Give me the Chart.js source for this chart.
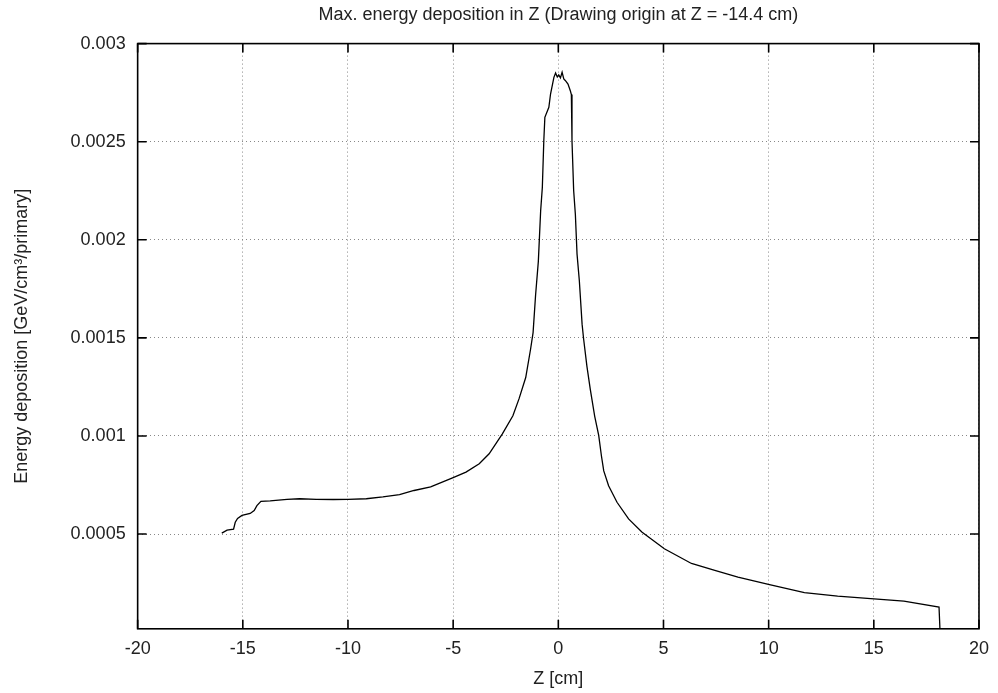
<!DOCTYPE html>
<html>
<head>
<meta charset="utf-8">
<script src="https://cdn.jsdelivr.net/npm/chart.js@4.4.1/dist/chart.umd.min.js"></script>
<style>
    html, body { margin: 0; padding: 0; background: #ffffff; }
    #wrap { width: 998px; height: 693px; }
</style>
</head>
<body>
<div id="wrap"><canvas id="depoChart" width="998" height="693"></canvas></div>
<script>
// Z position along the beam axis [cm]
const zValues = [
    -16.0, -15.75, -15.44, -15.36, -15.25, -15.04, -14.65, -14.46, -14.33, -14.14,
    -13.7, -12.9, -12.3, -11.5, -10.7, -10.0, -9.13, -8.34, -7.55, -6.86,
    -6.07, -5.0, -4.39, -3.76, -3.29, -2.66, -2.16, -1.87, -1.55, -1.32,
    -1.2, -1.08, -0.95, -0.84, -0.76, -0.69, -0.64, -0.45, -0.37, -0.21,
    -0.13, -0.05, 0.02, 0.1, 0.18, 0.26, 0.34, 0.46, 0.57, 0.62,
    0.65, 0.73, 0.81, 0.89, 1.0, 1.13, 1.2, 1.36, 1.52, 1.73,
    1.92, 2.05, 2.16, 2.39, 2.79, 3.34, 3.97, 5.04, 6.33, 7.44,
    8.54, 10.04, 11.7, 13.28, 15.01, 16.43, 18.1, 18.15
];

// max. energy deposition [GeV/cm3/primary]
const energyValues = [
    0.000505, 0.00052, 0.000525, 0.00056, 0.00058, 0.000595, 0.000605, 0.00062, 0.000645, 0.000667,
    0.000669, 0.000677, 0.00068, 0.000677, 0.000676, 0.000677, 0.00068, 0.000689, 0.000701, 0.000722,
    0.00074, 0.000788, 0.000816, 0.000858, 0.000909, 0.001011, 0.001103, 0.001189, 0.001298, 0.001442,
    0.001527, 0.00172, 0.00189, 0.002148, 0.002267, 0.002505, 0.002624, 0.002675, 0.002743, 0.002828,
    0.00285, 0.00283, 0.00284, 0.002825, 0.002854, 0.00282, 0.002811, 0.002794, 0.00276, 0.00274,
    0.002505, 0.00225, 0.00213, 0.001927, 0.00179, 0.00157, 0.001497, 0.001355, 0.001237, 0.0011,
    0.001003, 0.000898, 0.000822, 0.000746, 0.000662, 0.000577, 0.00051, 0.000425, 0.00035, 0.000315,
    0.00028, 0.000242, 0.000201, 0.000184, 0.00017, 0.000158, 0.000128, 0
];

// y tick labels shown on the axis (no label at the bottom)
const yTickLabels = ['0.0005', '0.001', '0.0015', '0.002', '0.0025', '0.003'];

const points = [];
for (let i = 0; i < zValues.length; i++) {
    points.push({ x: zValues[i], y: energyValues[i] });
}

const fontFamily = '"Liberation Sans", Arial, Helvetica, sans-serif';

// gnuplot style frame with inward tick marks
const framePlugin = {
    id: 'frame',
    afterDraw (chart) {
        const ctx = chart.ctx;
        const a = chart.chartArea;
        const xs = chart.scales.x;
        const ys = chart.scales.y;
        const len = 9;
        ctx.save();
        ctx.strokeStyle = '#000';
        ctx.lineWidth = 1.6;
        ctx.strokeRect(a.left, a.top, a.right - a.left, a.bottom - a.top);
        ctx.beginPath();
        xs.ticks.forEach(function (t) {
            const px = xs.getPixelForValue(t.value);
            ctx.moveTo(px, a.bottom); ctx.lineTo(px, a.bottom - len);
            ctx.moveTo(px, a.top); ctx.lineTo(px, a.top + len);
        });
        ys.ticks.forEach(function (t) {
            const py = ys.getPixelForValue(t.value);
            ctx.moveTo(a.left, py); ctx.lineTo(a.left + len, py);
            ctx.moveTo(a.right, py); ctx.lineTo(a.right - len, py);
        });
        ctx.stroke();
        ctx.restore();
    }
};

const config = {
    type: 'line',
    data: {
        datasets: [{
            data: points,
            borderColor: '#000',
            borderWidth: 1.3,
            pointRadius: 0,
            tension: 0,
            fill: false
        }]
    },
    options: {
        responsive: false,
        animation: false,
        layout: { padding: { left: 11, right: 5, top: 0, bottom: 3 } },
        plugins: {
            legend: { display: false },
            tooltip: { enabled: false },
            title: {
                display: true,
                fullSize: false,
                text: 'Max. energy deposition in Z (Drawing origin at Z = -14.4 cm)',
                color: '#222',
                font: { family: fontFamily, size: 18, weight: 'normal' },
                padding: { top: 4, bottom: 18 }
            }
        },
        scales: {
            x: {
                type: 'linear',
                min: -20,
                max: 20,
                ticks: {
                    stepSize: 5,
                    color: '#222',
                    padding: 9,
                    maxRotation: 0,
                    font: { family: fontFamily, size: 18 }
                },
                grid: { color: '#888', drawTicks: false },
                border: { display: false, dash: [1, 3] },
                title: {
                    display: true,
                    text: 'Z [cm]',
                    color: '#222',
                    font: { family: fontFamily, size: 18 },
                    padding: { top: 0, bottom: 0 }
                }
            },
            y: {
                type: 'linear',
                min: 0.000017,
                max: 0.003,
                ticks: {
                    stepSize: 0.0005,
                    includeBounds: false,
                    color: '#222',
                    padding: 12,
                    font: { family: fontFamily, size: 18 },
                    callback: function (v) {
                        const i = Math.round(v / 0.0005) - 1;
                        return yTickLabels[i] !== undefined ? yTickLabels[i] : '';
                    }
                },
                grid: { color: '#888', drawTicks: false },
                border: { display: false, dash: [1, 3] },
                title: {
                    display: true,
                    text: 'Energy deposition [GeV/cm\u00B3/primary]',
                    color: '#222',
                    font: { family: fontFamily, size: 18 },
                    padding: { top: 0, bottom: 26 }
                }
            }
        }
    },
    plugins: [framePlugin]
};

const myChart = new Chart(document.getElementById('depoChart'), config);
</script>
</body>
</html>
